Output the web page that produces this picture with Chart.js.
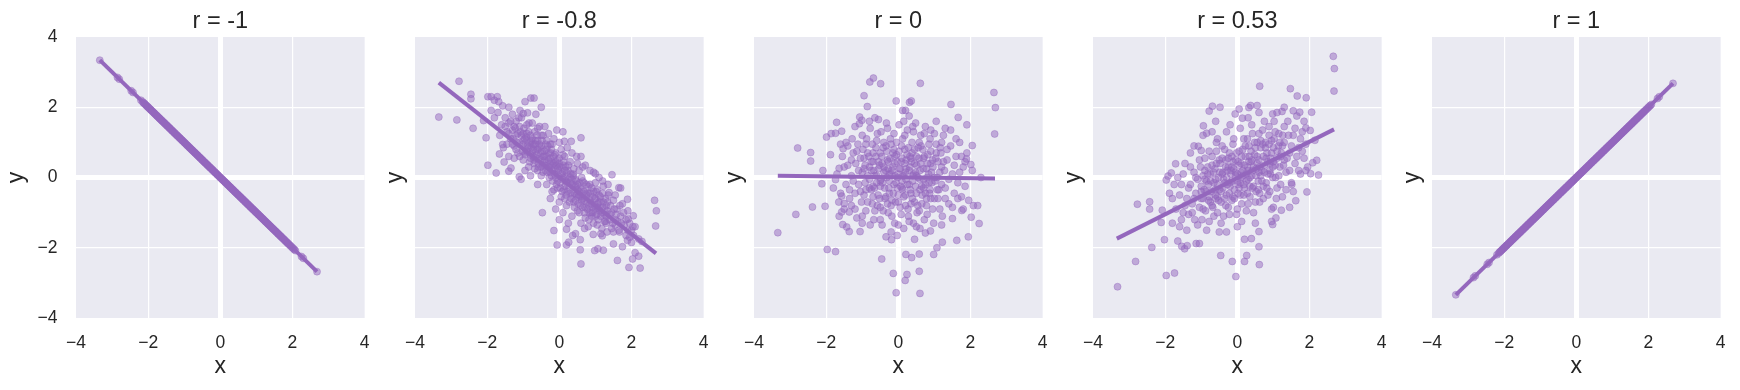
<!DOCTYPE html>
<html>
<head>
<meta charset="utf-8">
<script src="https://cdn.jsdelivr.net/npm/chart.js@4.4.1/dist/chart.umd.min.js"></script>
<style>
  html, body { margin: 0; padding: 0; background: #fff; overflow: hidden; }
  #wrap { position: relative; width: 1740px; height: 390px; }
  #wrap canvas { position: absolute; top: 0; }
</style>
</head>
<body>
<div id="wrap">
  <canvas id="c0" width="384" height="390" style="left:0px"></canvas>
  <canvas id="c1" width="384" height="390" style="left:339px"></canvas>
  <canvas id="c2" width="384" height="390" style="left:678px"></canvas>
  <canvas id="c3" width="384" height="390" style="left:1017px"></canvas>
  <canvas id="c4" width="384" height="390" style="left:1356px"></canvas>
</div>
<script>
// --- data ------------------------------------------------------------------

const titles = ['r = -1', 'r = -0.8', 'r = 0', 'r = 0.53', 'r = 1'];
const axisTicks = [-4, -2, 0, 2, 4];

// fitted regression line, end points
const fitX = [-3.34, 2.68];
const fitYNeg1 = [3.34, -2.68];
const fitYNeg08 = [2.70, -2.16];
const fitY0 = [0.05, -0.03];
const fitY053 = [-1.74, 1.37];
const fitYPos1 = [-3.34, 2.68];

// r = -1 and r = 1 panels: points sit on the diagonal
const xLine = [-3.34, -2.85, -2.80, -2.47, -2.42, -2.20, -2.15, -2.11, -2.07, -2.03, -2.0, -1.96, -1.93,
  -1.89, -1.85, -1.82, -1.78, -1.75, -1.71, -1.68, -1.64, -1.61, -1.57, -1.54, -1.5, -1.47, -1.43, -1.4,
  -1.36, -1.33, -1.29, -1.26, -1.22, -1.19, -1.15, -1.12, -1.08, -1.05, -1.01, -0.98, -0.94, -0.91, -0.87,
  -0.84, -0.8, -0.77, -0.73, -0.7, -0.66, -0.63, -0.59, -0.56, -0.52, -0.49, -0.45, -0.42, -0.38, -0.35,
  -0.31, -0.28, -0.24, -0.21, -0.17, -0.14, -0.1, -0.07, -0.03, 0.0, 0.04, 0.07, 0.11, 0.14, 0.18, 0.21,
  0.25, 0.28, 0.32, 0.35, 0.39, 0.42, 0.46, 0.49, 0.53, 0.56, 0.6, 0.63, 0.67, 0.7, 0.74, 0.77, 0.81, 0.84,
  0.88, 0.91, 0.95, 0.98, 1.02, 1.05, 1.09, 1.12, 1.16, 1.19, 1.23, 1.26, 1.3, 1.33, 1.37, 1.4, 1.44, 1.47,
  1.51, 1.54, 1.58, 1.61, 1.65, 1.68, 1.72, 1.76, 1.8, 1.84, 1.88, 1.93, 1.98, 2.03, 2.08, 2.25, 2.3, 2.68,
  -2.13, -2.09, -2.05, -2.01, -1.98, -1.94, -1.91, -1.87, -1.83, -1.8, -1.76, -1.73, -1.69, -1.66, -1.62,
  -1.59, -1.55, -1.52, -1.48, -1.45, -1.41, -1.38, -1.34, -1.31, -1.27, -1.24, -1.2, -1.17, -1.13, -1.1,
  -1.06, -1.03, -0.99, -0.96, -0.92, -0.89, -0.85, -0.82, -0.78, -0.75, -0.71, -0.68, -0.64, -0.61, -0.57,
  -0.54, -0.5, -0.47, -0.43, -0.4, -0.36, -0.33, -0.29, -0.26, -0.22, -0.19, -0.15, -0.12, -0.08, -0.05,
  -0.01, 0.02, 0.06, 0.09, 0.13, 0.16, 0.2, 0.23, 0.27, 0.3, 0.34, 0.37, 0.41, 0.44, 0.48, 0.51, 0.55, 0.58,
  0.62, 0.65, 0.69, 0.72, 0.76, 0.79, 0.83, 0.86, 0.9, 0.93, 0.97, 1.0, 1.04, 1.07, 1.11, 1.14, 1.18, 1.21,
  1.25, 1.28, 1.32, 1.35, 1.39, 1.42, 1.46, 1.49, 1.53, 1.56, 1.6, 1.63, 1.67, 1.7, 1.74, 1.78, 1.82, 1.86,
  1.9, 1.95, 2.0, 2.05];
const yLineNeg = [3.34, 2.85, 2.80, 2.47, 2.42, 2.20, 2.15, 2.11, 2.07, 2.03, 2.0, 1.96, 1.93,
  1.89, 1.85, 1.82, 1.78, 1.75, 1.71, 1.68, 1.64, 1.61, 1.57, 1.54, 1.5, 1.47, 1.43, 1.4,
  1.36, 1.33, 1.29, 1.26, 1.22, 1.19, 1.15, 1.12, 1.08, 1.05, 1.01, 0.98, 0.94, 0.91, 0.87,
  0.84, 0.8, 0.77, 0.73, 0.7, 0.66, 0.63, 0.59, 0.56, 0.52, 0.49, 0.45, 0.42, 0.38, 0.35,
  0.31, 0.28, 0.24, 0.21, 0.17, 0.14, 0.1, 0.07, 0.03, 0.0, -0.04, -0.07, -0.11, -0.14, -0.18, -0.21,
  -0.25, -0.28, -0.32, -0.35, -0.39, -0.42, -0.46, -0.49, -0.53, -0.56, -0.6, -0.63, -0.67, -0.7, -0.74, -0.77, -0.81, -0.84,
  -0.88, -0.91, -0.95, -0.98, -1.02, -1.05, -1.09, -1.12, -1.16, -1.19, -1.23, -1.26, -1.3, -1.33, -1.37, -1.4, -1.44, -1.47,
  -1.51, -1.54, -1.58, -1.61, -1.65, -1.68, -1.72, -1.76, -1.8, -1.84, -1.88, -1.93, -1.98, -2.03, -2.08, -2.25, -2.3, -2.68,
  2.13, 2.09, 2.05, 2.01, 1.98, 1.94, 1.91, 1.87, 1.83, 1.8, 1.76, 1.73, 1.69, 1.66, 1.62,
  1.59, 1.55, 1.52, 1.48, 1.45, 1.41, 1.38, 1.34, 1.31, 1.27, 1.24, 1.2, 1.17, 1.13, 1.1,
  1.06, 1.03, 0.99, 0.96, 0.92, 0.89, 0.85, 0.82, 0.78, 0.75, 0.71, 0.68, 0.64, 0.61, 0.57,
  0.54, 0.5, 0.47, 0.43, 0.4, 0.36, 0.33, 0.29, 0.26, 0.22, 0.19, 0.15, 0.12, 0.08, 0.05,
  0.01, -0.02, -0.06, -0.09, -0.13, -0.16, -0.2, -0.23, -0.27, -0.3, -0.34, -0.37, -0.41, -0.44, -0.48, -0.51, -0.55, -0.58,
  -0.62, -0.65, -0.69, -0.72, -0.76, -0.79, -0.83, -0.86, -0.9, -0.93, -0.97, -1.0, -1.04, -1.07, -1.11, -1.14, -1.18, -1.21,
  -1.25, -1.28, -1.32, -1.35, -1.39, -1.42, -1.46, -1.49, -1.53, -1.56, -1.6, -1.63, -1.67, -1.7, -1.74, -1.78, -1.82, -1.86,
  -1.9, -1.95, -2.0, -2.05];
const yLinePos = [-3.34, -2.85, -2.80, -2.47, -2.42, -2.20, -2.15, -2.11, -2.07, -2.03, -2.0, -1.96, -1.93,
  -1.89, -1.85, -1.82, -1.78, -1.75, -1.71, -1.68, -1.64, -1.61, -1.57, -1.54, -1.5, -1.47, -1.43, -1.4,
  -1.36, -1.33, -1.29, -1.26, -1.22, -1.19, -1.15, -1.12, -1.08, -1.05, -1.01, -0.98, -0.94, -0.91, -0.87,
  -0.84, -0.8, -0.77, -0.73, -0.7, -0.66, -0.63, -0.59, -0.56, -0.52, -0.49, -0.45, -0.42, -0.38, -0.35,
  -0.31, -0.28, -0.24, -0.21, -0.17, -0.14, -0.1, -0.07, -0.03, 0.0, 0.04, 0.07, 0.11, 0.14, 0.18, 0.21,
  0.25, 0.28, 0.32, 0.35, 0.39, 0.42, 0.46, 0.49, 0.53, 0.56, 0.6, 0.63, 0.67, 0.7, 0.74, 0.77, 0.81, 0.84,
  0.88, 0.91, 0.95, 0.98, 1.02, 1.05, 1.09, 1.12, 1.16, 1.19, 1.23, 1.26, 1.3, 1.33, 1.37, 1.4, 1.44, 1.47,
  1.51, 1.54, 1.58, 1.61, 1.65, 1.68, 1.72, 1.76, 1.8, 1.84, 1.88, 1.93, 1.98, 2.03, 2.08, 2.25, 2.3, 2.68,
  -2.13, -2.09, -2.05, -2.01, -1.98, -1.94, -1.91, -1.87, -1.83, -1.8, -1.76, -1.73, -1.69, -1.66, -1.62,
  -1.59, -1.55, -1.52, -1.48, -1.45, -1.41, -1.38, -1.34, -1.31, -1.27, -1.24, -1.2, -1.17, -1.13, -1.1,
  -1.06, -1.03, -0.99, -0.96, -0.92, -0.89, -0.85, -0.82, -0.78, -0.75, -0.71, -0.68, -0.64, -0.61, -0.57,
  -0.54, -0.5, -0.47, -0.43, -0.4, -0.36, -0.33, -0.29, -0.26, -0.22, -0.19, -0.15, -0.12, -0.08, -0.05,
  -0.01, 0.02, 0.06, 0.09, 0.13, 0.16, 0.2, 0.23, 0.27, 0.3, 0.34, 0.37, 0.41, 0.44, 0.48, 0.51, 0.55, 0.58,
  0.62, 0.65, 0.69, 0.72, 0.76, 0.79, 0.83, 0.86, 0.9, 0.93, 0.97, 1.0, 1.04, 1.07, 1.11, 1.14, 1.18, 1.21,
  1.25, 1.28, 1.32, 1.35, 1.39, 1.42, 1.46, 1.49, 1.53, 1.56, 1.6, 1.63, 1.67, 1.7, 1.74, 1.78, 1.82, 1.86,
  1.9, 1.95, 2.0, 2.05];

// r = -0.8 panel, [x, y]
const ptsNeg08 = [
  [-2.78, 2.74], [-3.34, 1.72], [-2.84, 1.64], [-2.39, 1.40], [-2.45, 2.37], [-2.45, 2.24], [-2.03, 1.13],
  [-1.98, 0.35], [-1.75, 0.13], [-2.10, 1.62], [-1.98, 2.3], [-1.89, 2.3], [-1.72, 2.3], [-1.8, 2.2],
  [-1.68, 2.16], [-1.57, 2.04], [-1.89, 1.91], [-1.09, 1.91], [-1.0, 1.82], [-0.95, 2.16], [-0.79, 2.26],
  [-0.70, 2.26], [-0.50, 2.0], [-0.88, 1.84], [-0.07, 1.35], [0.60, 1.13], [0.33, 1.03], [0.14, 1.03],
  [1.46, 0.08], [1.65, -0.29], [1.89, -0.62], [2.64, -0.65], [2.69, -0.95], [2.67, -1.38], [2.05, -1.09],
  [2.29, -1.82], [1.91, -1.18], [2.0, -1.5], [2.06, -1.65], [1.89, -1.79], [2.10, -2.14], [2.03, -2.32],
  [2.2, -2.24], [1.93, -2.56], [2.24, -2.58], [1.61, -2.36], [0.60, -2.46], [0.58, -2.06], [0.98, -2.08],
  [1.07, -2.03], [1.22, -2.07], [1.50, -1.89], [1.75, -1.97], [-0.06, -1.92], [0.20, -1.92], [0.26, -1.84],
  [0.58, -1.77], [0.37, -1.65], [-0.15, -1.51], [0.20, -1.47], [-0.47, -1.0], [1.19, -1.66], [1.32, -1.55],
  [0.94, -1.62], [1.0, 0.11], [1.2, -0.10], [1.38, -0.43], [-1.11, 0.02], [-1.06, -0.05], [-1.40, 0.18],
  [-1.34, 0.27], [-1.66, 0.67], [-1.57, 0.94], [-1.53, 0.44],
  [-1.6, 1.5], [-1.5, 1.7], [-1.45, 1.3], [-1.4, 1.55], [-1.35, 1.1], [-1.3, 1.8], [-1.3, 1.35], [-1.25, 0.9],
  [-1.2, 1.6], [-1.2, 1.2], [-1.15, 0.7], [-1.1, 1.45], [-1.1, 1.0], [-1.05, 1.7], [-1.0, 1.25], [-1.0, 0.5],
  [-0.95, 0.85], [-0.9, 1.5], [-0.9, 1.05], [-0.85, 0.3], [-0.8, 1.2], [-0.8, 0.65], [-0.75, 1.55],
  [-0.75, 0.95], [-0.7, 0.4], [-0.68, 1.3], [-0.65, 0.75], [-0.6, 1.05], [-0.6, 0.2], [-0.55, 1.45],
  [-0.55, 0.55], [-0.5, 0.9], [-0.5, 0.05], [-0.45, 1.2], [-0.45, 0.6], [-0.4, 0.35], [-0.38, 0.95],
  [-0.35, -0.2], [-0.3, 0.7], [-0.3, 1.25], [-0.25, 0.15], [-0.2, 0.45], [-0.2, 0.95], [-0.15, -0.35],
  [-0.12, 0.25], [-0.1, 0.7], [-0.05, -0.1], [0.0, 0.4], [0.0, 1.0], [0.05, -0.55], [0.08, 0.1], [0.1, 0.65],
  [0.15, -0.25], [0.18, 0.3], [0.2, -0.8], [0.22, 0.85], [0.25, -0.05], [0.3, -0.45], [0.3, 0.45],
  [0.35, -1.1], [0.38, 0.1], [0.4, -0.7], [0.45, -0.25], [0.48, 0.6], [0.5, -0.95], [0.55, -0.4], [0.55, 0.2],
  [0.6, -1.3], [0.62, -0.65], [0.65, -0.1], [0.7, -1.0], [0.72, 0.35], [0.75, -0.5], [0.8, -1.4],
  [0.82, -0.8], [0.85, -0.2], [0.9, -1.1], [0.92, -0.55], [0.95, 0.15], [1.0, -0.9], [1.05, -1.35],
  [1.05, -0.35], [1.1, -0.7], [1.15, -1.1], [1.2, -0.45], [1.25, -1.25], [1.3, -0.8], [1.35, -0.2],
  [1.4, -1.05], [1.45, -1.45], [1.5, -0.65], [1.55, -1.2], [1.6, -0.9], [1.65, -1.5], [1.7, -1.1],
  [1.75, -0.75], [1.8, -1.35], [1.85, -1.65], [1.9, -0.95], [1.95, -1.3], [2.0, -1.85], [2.1, -1.4],
  [2.2, -1.75], [-1.7, 1.85], [-1.65, 1.2], [-1.55, 0.85], [-1.8, 1.7], [-1.4, 2.0], [-0.65, 1.8],
  [0.1, 1.3], [0.45, -1.6], [-0.25, -0.6], [0.0, -1.2], [0.6, 0.6], [1.1, 0.0], [1.7, -0.3],
  [1.85, -1.2], [2.04, -1.4], [1.9, -1.5], [1.67, -1.55], [1.5, -1.55], [1.95, -1.7], [1.55, -1.35], [1.28, -1.25],
  [-1.3, 0.95], [-1.25, 1.45], [-1.2, 0.8], [-1.15, 1.25], [-1.1, 0.6], [-1.05, 1.2], [-1.0, 0.95],
  [-0.98, 1.4], [-0.95, 0.65], [-0.92, 1.15], [-0.88, 0.9], [-0.85, 1.3], [-0.82, 0.45], [-0.78, 0.85],
  [-0.75, 1.1], [-0.72, 0.6], [-0.7, 0.95], [-0.68, 0.25], [-0.65, 0.55], [-0.62, 1.2], [-0.6, 0.8],
  [-0.58, 0.4], [-0.55, 0.95], [-0.52, 0.7], [-0.5, 0.3], [-0.48, 1.05], [-0.45, 0.15], [-0.42, 0.75],
  [-0.4, 0.5], [-0.38, 0.2], [-0.35, 0.6], [-0.32, 0.9], [-0.3, 0.3], [-0.28, 0.0], [-0.25, 0.55],
  [-0.22, 0.8], [-0.2, 0.2], [-0.18, -0.1], [-0.15, 0.4], [-0.12, 0.65], [-0.1, 0.0], [-0.08, 0.35],
  [-0.05, -0.3], [-0.02, 0.2], [0.0, 0.55], [0.02, -0.15], [0.05, 0.3], [0.08, -0.4], [0.1, 0.0],
  [0.12, 0.45], [0.15, -0.6], [0.18, -0.1], [0.2, 0.15], [0.22, -0.4], [0.25, 0.35], [0.28, -0.7],
  [0.3, -0.15], [0.32, 0.1], [0.35, -0.5], [0.38, -0.25], [0.4, 0.25], [0.42, -0.85], [0.45, -0.05],
  [0.48, -0.5], [0.5, -0.2], [0.52, -0.75], [0.55, -1.0], [0.58, -0.3], [0.6, -0.55], [0.62, 0.0],
  [0.65, -0.85], [0.68, -0.4], [0.7, -0.65], [0.72, -1.15], [0.75, -0.2], [0.78, -0.9], [0.8, -0.45],
  [0.82, -1.2], [0.85, -0.65], [0.88, -1.0], [0.9, -0.3], [0.92, -0.85], [0.95, -1.3], [0.98, -0.6],
  [1.0, -1.1], [1.02, -0.4], [1.05, -0.85], [1.08, -1.2], [1.1, -0.5], [1.12, -0.95], [1.15, -0.7],
  [1.18, -1.45], [1.2, -0.85], [1.22, -0.25], [1.25, -1.05], [1.28, -0.6], [1.3, -1.3], [1.33, -0.95],
  [1.36, -0.5], [1.4, -1.2], [1.42, -0.8], [1.45, -1.0], [1.48, -1.3], [1.52, -0.9], [1.55, -0.5],
  [1.58, -1.05], [1.62, -1.25], [1.68, -0.8], [1.72, -1.3], [1.78, -1.0], [-1.5, 1.45], [-1.45, 0.95],
  [-1.4, 1.25], [-1.35, 1.6], [-1.28, 1.1], [-1.22, 1.4], [-1.18, 1.0], [-1.12, 1.7], [-1.08, 1.3],
  [-1.02, 0.75], [-0.96, 1.1], [-0.9, 0.75], [-0.84, 1.55], [-0.8, 1.0], [-0.74, 0.75], [-0.66, 1.05],
  [-0.6, 1.4], [-0.5, 1.2], [-0.4, 1.45], [-0.35, 1.05], [-0.25, 0.95], [-0.15, 1.1], [0.05, 0.8],
  [0.15, 0.6], [0.25, -1.3], [0.35, 0.7], [0.5, 0.4], [0.65, 0.3], [0.7, -1.45], [0.85, 0.2], [1.0, -0.15],
  [1.15, -1.6], [0.0, -0.7], [-0.1, -0.9], [0.1, -1.0], [-0.2, -0.4], [-0.6, -0.2], [-0.8, 0.05],
  [-0.95, 0.2], [-1.25, 0.55], [-1.4, 0.6],
  [-1.0, 1.05], [-0.95, 0.7], [-0.9, 1.25], [-0.85, 0.85], [-0.8, 0.55], [-0.78, 1.05], [-0.72, 0.8],
  [-0.7, 0.5], [-0.66, 0.95], [-0.62, 0.65], [-0.58, 0.3], [-0.56, 0.85], [-0.52, 0.5], [-0.48, 0.75],
  [-0.46, 0.35], [-0.42, 0.6], [-0.38, 0.4], [-0.36, 0.8], [-0.33, 0.15], [-0.3, 0.5], [-0.27, 0.3],
  [-0.24, 0.7], [-0.22, 0.05], [-0.19, 0.35], [-0.16, 0.6], [-0.13, 0.1], [-0.1, 0.45], [-0.08, -0.2],
  [-0.05, 0.25], [-0.03, 0.05], [0.0, 0.3], [0.03, -0.3], [0.05, 0.1], [0.08, -0.05], [0.11, 0.35],
  [0.13, -0.35], [0.16, 0.0], [0.19, -0.5], [0.21, -0.15], [0.24, 0.2], [0.27, -0.3], [0.3, 0.0],
  [0.33, -0.6], [0.36, -0.2], [0.39, 0.05], [0.42, -0.45], [0.45, -0.65], [0.47, -0.1], [0.5, -0.35],
  [0.53, -0.55], [0.56, -0.15], [0.59, -0.8], [0.62, -0.35], [0.65, -0.6], [0.68, -0.15], [0.71, -0.85],
  [0.74, -0.45], [0.77, -0.7], [0.8, -0.25], [0.83, -1.0], [0.86, -0.45], [0.89, -0.75], [0.92, -1.0],
  [0.95, -0.4], [0.98, -0.8], [1.01, -0.6], [1.04, -1.05], [1.07, -0.75], [1.1, -0.9], [1.14, -0.55],
  [1.18, -1.0], [1.22, -0.7], [1.26, -0.9], [1.3, -1.1], [1.34, -0.7], [-0.25, 0.4], [0.15, 0.2],
  [0.55, -0.5], [0.35, -0.05], [-0.05, 0.5]
];

// r = 0 panel, [x, y]
const pts0 = [
  [-0.69, 2.83], [-0.79, 2.72], [-0.49, 2.67], [0.61, 2.68], [-0.95, 2.33], [-0.86, 2.02], [-0.06, 2.18],
  [0.12, 1.91], [0.2, 1.91], [0.31, 2.14], [0.36, 2.18], [1.46, 2.08], [1.66, 1.71], [1.90, 1.50],
  [2.65, 2.42], [2.69, 1.99], [2.67, 1.24], [2.05, 0.91], [1.89, 0.53], [2.01, 0.37], [2.05, 0.20],
  [2.29, 0.0], [2.08, -0.80], [2.2, -0.80], [2.24, -1.31], [2.02, -1.13], [1.94, -1.69], [1.62, -1.79],
  [1.22, -1.84], [1.07, -2.0], [0.98, -2.19], [0.58, -2.18], [0.58, -2.67], [0.60, -3.30], [0.21, -2.19],
  [0.37, -2.28], [-0.14, -2.73], [0.24, -2.76], [0.19, -2.93], [-0.06, -3.28], [-0.46, -2.32],
  [-1.97, -2.05], [-1.74, -2.11], [-3.34, -1.57], [-2.84, -1.05], [-2.38, -0.84], [-2.03, -0.82],
  [-2.12, -0.18], [-2.09, 0.2], [-2.79, 0.84], [-2.43, 0.71], [-2.43, 0.47], [-1.71, 1.57], [-1.99, 1.15],
  [-1.86, 1.25], [-1.74, 1.26], [-1.57, 1.32], [-1.07, 1.72], [-1.01, 1.63], [-1.08, 1.53], [-0.55, 1.65],
  [-1.88, 0.65], [-1.53, 0.82], [-1.54, -1.34], [-1.43, -1.41], [-1.36, -1.54], [-1.06, -1.54],
  [-1.64, -1.1], [-1.57, -0.98], [-0.34, -1.69], [-0.19, -1.77], [-0.03, -1.65], [0.45, -1.76],
  [0.75, -1.58], [0.89, -1.52], [1.50, -1.17], [1.76, -0.94], [-1.74, -0.06], [-1.64, 0.26],
  [-1.57, -0.53], [-1.5, -0.74], [-1.36, -0.98],
  [-1.5, 0.3], [-1.45, -0.2], [-1.4, 0.9], [-1.35, -0.6], [-1.3, 0.5], [-1.28, 1.1], [-1.25, -0.1],
  [-1.2, -0.9], [-1.15, 0.75], [-1.1, 0.2], [-1.05, -0.4], [-1.0, 1.2], [-1.0, -1.1], [-0.95, 0.55],
  [-0.92, -0.15], [-0.9, 0.95], [-0.85, -0.7], [-0.8, 0.3], [-0.78, 1.4], [-0.75, -0.35], [-0.7, 0.7],
  [-0.68, -1.2], [-0.65, 0.05], [-0.6, 1.05], [-0.58, -0.8], [-0.55, 0.45], [-0.5, -0.25], [-0.48, 1.3],
  [-0.45, -1.35], [-0.42, 0.85], [-0.4, 0.15], [-0.35, -0.55], [-0.33, 1.55], [-0.3, 0.5], [-0.28, -1.0],
  [-0.25, -0.1], [-0.2, 0.95], [-0.18, -0.65], [-0.15, 0.3], [-0.12, 1.25], [-0.1, -1.3], [-0.05, 0.65],
  [-0.03, -0.3], [0.0, 0.1], [0.02, 1.5], [0.05, -0.85], [0.08, 0.45], [0.1, -0.1], [0.12, 1.1],
  [0.15, -1.45], [0.18, 0.8], [0.2, -0.5], [0.22, 0.25], [0.25, 1.35], [0.28, -1.1], [0.3, -0.2],
  [0.32, 0.6], [0.35, -0.75], [0.38, 1.0], [0.4, 0.05], [0.42, -1.3], [0.45, 0.4], [0.48, 1.55],
  [0.5, -0.45], [0.55, 0.85], [0.58, -0.95], [0.6, 0.2], [0.62, 1.2], [0.65, -0.25], [0.7, 0.55],
  [0.72, -1.2], [0.75, 1.45], [0.78, -0.6], [0.8, 0.0], [0.85, 0.95], [0.88, -0.35], [0.9, 0.4],
  [0.95, -0.9], [1.0, 1.25], [1.02, -0.1], [1.05, 0.7], [1.1, -0.6], [1.15, 0.15], [1.2, 1.0],
  [1.22, -1.1], [1.25, 0.45], [1.3, -0.3], [1.35, 0.8], [1.4, -0.75], [1.45, 1.35], [1.5, 0.1],
  [1.55, -0.45], [1.6, 0.6], [1.65, -0.15], [1.7, 1.0], [1.75, -0.55], [1.8, 0.3], [1.85, -0.25],
  [1.9, 0.7], [1.95, -0.65], [-1.6, -0.45], [-1.55, 0.6], [-1.7, 0.1], [-1.8, -0.3], [-0.65, 1.7],
  [0.3, 1.75], [1.05, 1.6], [-0.2, -1.55], [0.6, -1.45],
  [-1.4, 0.35], [-1.35, -0.35], [-1.3, 0.05], [-1.25, 0.7], [-1.2, -0.45], [-1.18, 0.4], [-1.15, -1.15],
  [-1.12, 0.95], [-1.1, -0.2], [-1.05, 0.55], [-1.02, -0.7], [-1.0, 0.15], [-0.98, 0.8], [-0.95, -0.5],
  [-0.92, 0.35], [-0.9, -0.95], [-0.88, 1.1], [-0.85, 0.05], [-0.82, 0.6], [-0.8, -0.3], [-0.78, -1.35],
  [-0.75, 0.45], [-0.72, 0.95], [-0.7, -0.55], [-0.68, 0.2], [-0.65, -0.95], [-0.62, 0.6], [-0.6, -0.15],
  [-0.58, 1.25], [-0.55, 0.25], [-0.52, -0.6], [-0.5, 0.7], [-0.48, -0.05], [-0.45, 0.4], [-0.42, -0.95],
  [-0.4, 1.0], [-0.38, -0.3], [-0.35, 0.2], [-0.32, 0.75], [-0.3, -0.75], [-0.28, 0.45], [-0.25, -0.45],
  [-0.22, 1.1], [-0.2, 0.1], [-0.18, -1.1], [-0.15, 0.7], [-0.12, -0.2], [-0.1, 0.4], [-0.08, -0.7],
  [-0.05, 1.0], [-0.02, 0.0], [0.0, -0.5], [0.02, 0.75], [0.05, 0.25], [0.08, -1.05], [0.1, 0.55],
  [0.12, -0.35], [0.15, 0.05], [0.18, 1.2], [0.2, -0.8], [0.22, 0.5], [0.25, -0.2], [0.28, 0.85],
  [0.3, -1.25], [0.32, 0.3], [0.35, -0.45], [0.38, 0.7], [0.4, -0.1], [0.42, 1.3], [0.45, -0.7],
  [0.48, 0.15], [0.5, 0.6], [0.52, -1.0], [0.55, 0.0], [0.58, 1.0], [0.6, -0.35], [0.62, 0.4],
  [0.65, -0.75], [0.68, 0.8], [0.7, -0.05], [0.72, 1.25], [0.75, -0.45], [0.78, 0.25], [0.8, -1.05],
  [0.82, 0.65], [0.85, -0.15], [0.88, 1.1], [0.9, -0.6], [0.92, 0.15], [0.95, 0.5], [0.98, -1.3],
  [1.0, 0.0], [1.05, 0.95], [1.08, -0.35], [1.1, 0.45], [1.15, -0.9], [1.18, 0.7], [1.2, -0.2],
  [1.25, 1.2], [1.28, 0.2], [1.3, -0.6], [1.35, 0.5], [1.4, -0.05], [1.45, 0.9], [1.5, -0.85],
  [1.55, 0.35], [1.6, 1.1], [1.65, -0.6], [1.7, 0.15], [1.75, 0.6], [1.8, -0.9], [1.85, 0.45],
  [-1.5, -0.9], [-1.45, 1.0], [-1.6, 0.95], [-1.65, -0.7], [-1.3, -0.8], [-1.0, -1.3], [-0.5, -1.2],
  [0.0, -1.35], [0.5, -1.4], [1.2, -1.35], [-1.2, 1.45], [-0.3, 1.4], [0.4, 1.45], [0.9, 1.35],
  [1.3, 1.4], [-0.8, 1.6], [0.15, 1.6],
  [-0.95, 0.25], [-0.9, -0.35], [-0.85, 0.7], [-0.8, -0.05], [-0.75, 0.2], [-0.72, -0.75], [-0.7, 0.45],
  [-0.66, -0.3], [-0.62, 0.85], [-0.6, 0.05], [-0.56, -0.5], [-0.52, 0.35], [-0.5, -0.85], [-0.46, 0.6],
  [-0.44, -0.15], [-0.4, 0.3], [-0.37, -0.6], [-0.34, 0.9], [-0.32, 0.0], [-0.28, 0.25], [-0.26, -0.3],
  [-0.23, 0.55], [-0.2, -0.8], [-0.17, 0.2], [-0.14, -0.45], [-0.12, 0.8], [-0.09, 0.05], [-0.06, -0.15],
  [-0.03, 0.45], [0.0, -0.7], [0.03, 0.25], [0.06, -0.25], [0.09, 0.9], [0.12, 0.05], [0.15, -0.55],
  [0.18, 0.4], [0.21, -0.05], [0.24, 0.65], [0.27, -0.9], [0.3, 0.2], [0.33, -0.35], [0.36, 0.45],
  [0.39, -0.6], [0.42, 0.1], [0.45, 0.8], [0.48, -0.25], [0.51, 0.35], [0.54, -0.8], [0.57, 0.55],
  [0.6, -0.05], [0.63, 0.9], [0.66, -0.5], [0.69, 0.25], [0.72, 0.6], [0.75, -0.2], [0.78, -0.8],
  [0.81, 0.4], [0.84, 0.1], [0.87, -0.45], [0.9, 0.75], [0.93, -0.15], [0.96, 0.3], [1.0, -0.6],
  [1.04, 0.55], [1.08, 0.0], [1.12, -0.35], [1.16, 0.85], [1.2, 0.3], [-0.25, 0.1], [0.2, 0.15],
  [0.5, 0.05], [-0.5, -0.1], [0.1, -0.3], [0.35, 0.55], [-0.1, 0.6], [0.7, -0.3], [-0.7, -0.25]
];

// r = 0.53 panel, [x, y]
const pts053 = [
  [-3.32, -3.11], [-2.82, -2.39], [-2.37, -1.99], [-2.77, -0.76], [-2.43, -0.69], [-2.43, -0.90],
  [-1.97, -2.79], [-1.74, -2.72], [-2.02, -1.77], [-2.11, -1.28], [-2.08, -0.93], [-1.65, -1.81],
  [-1.54, -1.96], [-1.46, -2.03], [-1.39, -1.94], [-1.14, -1.88], [-1.05, -1.88], [-0.46, -2.22],
  [-0.14, -2.39], [-0.04, -2.82], [0.20, -2.39], [0.26, -2.22], [0.61, -2.48], [0.60, -1.97],
  [0.39, -1.74], [0.20, -1.76], [0.60, -1.54], [0.98, -1.34], [1.07, -1.15], [1.22, -0.93], [1.62, -0.66],
  [1.93, -0.41], [1.51, -0.20], [2.03, 0.11], [2.25, 0.07], [2.20, 0.49], [2.09, 0.42], [2.66, 3.45],
  [2.69, 3.10], [2.68, 2.46], [1.47, 2.53], [1.66, 2.32], [1.91, 2.27], [0.62, 2.60], [2.06, 1.86],
  [1.73, 1.86], [1.24, 1.88], [0.98, 1.81], [0.32, 1.99], [0.37, 2.05], [-0.06, 1.81], [0.14, 1.69],
  [-0.78, 1.89], [-0.69, 2.03], [-0.48, 2.0], [-0.94, 1.47], [-0.85, 1.26], [-0.55, 1.10], [-1.08, 0.89],
  [-1.0, 0.77], [-1.71, 0.39], [-1.83, 0.13], [-1.92, 0.04], [-1.97, -0.07], [-1.88, -0.45], [1.9, 1.41],
  [2.02, 1.34], [2.15, 1.06],
  [-1.6, -0.5], [-1.55, -1.2], [-1.5, 0.1], [-1.45, -0.8], [-1.4, -1.5], [-1.35, -0.3], [-1.3, 0.3],
  [-1.25, -1.0], [-1.2, -0.6], [-1.15, 0.0], [-1.1, -1.35], [-1.05, 0.5], [-1.0, -0.4], [-0.95, -0.9],
  [-0.9, 0.2], [-0.85, -1.5], [-0.8, -0.2], [-0.78, 0.75], [-0.75, -0.7], [-0.7, 0.35], [-0.65, -1.1],
  [-0.6, -0.05], [-0.58, 1.0], [-0.55, -0.55], [-0.5, 0.5], [-0.45, -1.3], [-0.42, 0.1], [-0.4, -0.3],
  [-0.35, 0.8], [-0.32, -0.8], [-0.3, 1.3], [-0.25, 0.3], [-0.22, -1.05], [-0.2, -0.15], [-0.15, 0.6],
  [-0.12, -0.55], [-0.1, 1.1], [-0.05, 0.05], [0.0, -0.9], [0.02, 0.45], [0.05, -0.3], [0.08, 1.4],
  [0.1, 0.15], [0.12, -1.25], [0.15, 0.8], [0.18, -0.5], [0.2, 0.35], [0.25, -0.1], [0.28, 1.1],
  [0.3, -0.75], [0.33, 0.6], [0.35, -0.25], [0.4, 1.5], [0.42, 0.2], [0.45, -1.0], [0.5, 0.85],
  [0.52, -0.4], [0.55, 0.4], [0.6, 1.25], [0.62, -0.7], [0.65, 0.05], [0.7, 0.95], [0.72, -0.25],
  [0.75, 1.6], [0.8, 0.55], [0.85, -0.5], [0.88, 1.2], [0.9, 0.2], [0.95, -0.9], [1.0, 0.85], [1.02, 1.6],
  [1.05, 0.35], [1.1, -0.3], [1.15, 1.25], [1.2, 0.6], [1.25, -0.55], [1.3, 1.0], [1.35, 0.15], [1.4, 1.6],
  [1.45, 0.7], [1.5, -0.15], [1.55, 1.2], [1.6, 0.4], [1.65, 1.75], [1.7, 0.85], [1.75, 0.1], [1.8, 1.3],
  [1.85, 0.55], [1.9, 0.95], [1.95, 0.3], [-1.7, -0.9], [-1.8, -0.6], [-0.95, 1.2], [-0.6, 1.6],
  [0.05, 1.95], [0.95, -1.25], [-0.3, -1.55], [1.3, 2.0], [0.55, 2.05], [-1.3, 0.7],
  [-1.4, -0.6], [-1.35, -1.05], [-1.3, -0.2], [-1.25, -0.75], [-1.2, 0.15], [-1.18, -1.2], [-1.15, -0.45],
  [-1.1, -0.05], [-1.05, -0.85], [-1.02, 0.3], [-1.0, -0.6], [-0.98, -1.2], [-0.95, 0.05], [-0.92, -0.35],
  [-0.9, 0.55], [-0.88, -0.95], [-0.85, -0.1], [-0.82, 0.3], [-0.8, -0.65], [-0.78, -1.25], [-0.75, 0.1],
  [-0.72, -0.4], [-0.7, 0.6], [-0.68, -0.85], [-0.65, -0.15], [-0.62, 0.25], [-0.6, -0.6], [-0.58, 0.75],
  [-0.55, -1.0], [-0.52, 0.0], [-0.5, -0.35], [-0.48, 0.4], [-0.45, -0.7], [-0.42, 0.9], [-0.4, 0.15],
  [-0.38, -1.1], [-0.35, -0.15], [-0.32, 0.5], [-0.3, -0.5], [-0.28, 0.2], [-0.25, -0.85], [-0.22, 0.7],
  [-0.2, -0.25], [-0.18, 0.1], [-0.15, -0.65], [-0.12, 0.95], [-0.1, 0.25], [-0.08, -0.35], [-0.05, 0.5],
  [-0.02, -1.05], [0.0, 0.1], [0.02, -0.45], [0.05, 0.75], [0.08, -0.15], [0.1, 0.4], [0.12, -0.75],
  [0.15, 0.05], [0.18, 1.1], [0.2, -0.3], [0.22, 0.6], [0.25, -0.95], [0.28, 0.3], [0.3, -0.05],
  [0.32, 0.9], [0.35, -0.55], [0.38, 0.45], [0.4, 0.05], [0.42, 1.25], [0.45, -0.25], [0.48, 0.65],
  [0.5, -0.7], [0.52, 0.25], [0.55, 1.0], [0.58, -0.1], [0.6, 0.5], [0.62, -0.45], [0.65, 0.85],
  [0.68, 0.2], [0.7, 1.35], [0.72, -0.6], [0.75, 0.35], [0.78, 1.0], [0.8, -0.15], [0.82, 0.7],
  [0.85, 0.1], [0.88, 1.45], [0.9, -0.4], [0.92, 0.55], [0.95, 1.05], [0.98, 0.0], [1.0, 0.45],
  [1.05, 1.3], [1.08, -0.6], [1.1, 0.75], [1.15, 0.05], [1.18, 1.0], [1.2, -0.2], [1.25, 0.9],
  [1.28, 0.35], [1.3, 1.45], [1.35, -0.35], [1.38, 0.55], [1.42, 1.2], [1.45, 0.2], [1.5, 0.9],
  [1.55, -0.4], [1.6, 1.4], [1.65, 0.6], [1.7, 0.2], [1.75, 1.1], [1.8, 0.75], [1.85, 1.6], [1.9, 0.2],
  [-1.5, -1.0], [-1.45, 0.4], [-1.55, -0.2], [-1.6, -1.4], [-1.65, 0.0], [-1.2, 0.9], [-0.7, 1.3],
  [-0.2, 1.5], [0.3, 1.7], [0.6, 1.85], [1.1, 1.85], [1.55, 1.9], [0.5, -1.3], [0.0, -1.4], [-0.5, -1.55],
  [1.0, -0.85], [1.45, -0.85], [-1.8, -1.3], [-1.75, -0.2],
  [-1.0, -0.25], [-0.95, -0.6], [-0.9, -0.05], [-0.86, -0.4], [-0.82, 0.1], [-0.78, -0.55], [-0.74, -0.1],
  [-0.7, -0.8], [-0.66, 0.15], [-0.62, -0.35], [-0.58, 0.4], [-0.55, -0.2], [-0.52, -0.65], [-0.48, 0.15],
  [-0.45, -0.4], [-0.42, 0.55], [-0.38, -0.05], [-0.35, -0.6], [-0.32, 0.3], [-0.28, -0.2], [-0.25, 0.55],
  [-0.22, -0.45], [-0.18, 0.2], [-0.15, -0.1], [-0.12, 0.45], [-0.08, -0.6], [-0.05, 0.15], [-0.02, 0.7],
  [0.02, -0.2], [0.05, 0.35], [0.08, -0.5], [0.12, 0.6], [0.15, 0.2], [0.18, -0.2], [0.22, 0.9],
  [0.25, 0.1], [0.28, -0.45], [0.32, 0.45], [0.35, 0.0], [0.38, 0.75], [0.42, -0.3], [0.45, 0.3],
  [0.48, 1.0], [0.52, 0.05], [0.55, 0.6], [0.58, -0.35], [0.62, 0.3], [0.65, 1.05], [0.68, -0.1],
  [0.72, 0.6], [0.75, 0.15], [0.78, 0.85], [0.82, -0.3], [0.85, 0.45], [0.88, 0.95], [0.92, 0.1],
  [0.95, 0.7], [0.98, 0.3], [1.02, 1.1], [1.06, 0.0], [1.1, 0.55], [1.14, 0.9], [1.18, 0.3], [1.22, 0.7],
  [1.26, 1.2], [1.3, 0.5], [0.0, -0.1], [0.3, 0.2], [-0.3, 0.0], [0.6, 0.15], [-0.6, -0.5], [0.1, 0.0],
  [0.4, 0.5], [-0.15, 0.3], [0.9, 0.4]
];

// --- styling ----------------------------------------------------------------

const PURPLE = '#9467bd';
const PURPLE_A = 'rgba(148, 103, 189, 0.5)';
const TEXT = '#262626';
const FONT = '"Liberation Sans", Arial, sans-serif';

const plotBg = {
  id: 'plotBg',
  beforeDraw(chart) {
    const { ctx, chartArea: a } = chart;
    ctx.save();
    ctx.fillStyle = '#EAEAF2';
    ctx.fillRect(a.left, a.top, a.width, a.height);
    ctx.restore();
  }
};

function fmtTick(v) {
  return v < 0 ? '\u2212' + Math.abs(v) : String(v);
}

function gridOpts() {
  return {
    color: (c) => (c.tick && Math.abs(c.tick.value) === 4 ? 'rgba(0,0,0,0)' : '#ffffff'),
    lineWidth: (c) => (c.tick && c.tick.value === 0 ? 5 : 1.2),
    drawTicks: false
  };
}

function makePanel(idx, xs, ys, fitY, firstPanel) {
  const pts = xs.map((x, i) => ({ x: x, y: ys[i] }));
  new Chart(document.getElementById('c' + idx), {
    type: 'scatter',
    data: {
      datasets: [
        {
          type: 'line',
          data: fitX.map((x, i) => ({ x: x, y: fitY[i] })),
          borderColor: PURPLE,
          borderWidth: 4,
          pointRadius: 0,
          showLine: true,
          fill: false,
          order: 0
        },
        {
          data: pts,
          backgroundColor: PURPLE_A,
          borderColor: PURPLE_A,
          borderWidth: 0.8,
          pointRadius: 3.5,
          order: 1
        }
      ]
    },
    options: {
      responsive: false,
      animation: false,
      layout: { padding: { left: 0, right: 17, top: 0, bottom: 0 } },
      plugins: {
        legend: { display: false },
        tooltip: { enabled: false },
        title: {
          display: true,
          text: titles[idx],
          fullSize: false,
          color: TEXT,
          font: { family: FONT, size: 23.5, weight: 'normal', lineHeight: 1.2 },
          padding: { top: 7, bottom: 1.8 }
        }
      },
      scales: {
        x: {
          type: 'linear',
          min: -4,
          max: 4,
          afterBuildTicks: (s) => { s.ticks = axisTicks.map(v => ({ value: v })); },
          afterFit: (s) => { s.height = 72; },
          border: { display: false },
          grid: gridOpts(),
          ticks: { color: TEXT, font: { family: FONT, size: 17.5 }, padding: 14.5, callback: fmtTick, maxRotation: 0 },
          title: { display: true, text: 'x', color: TEXT, font: { family: FONT, size: 23 }, padding: { top: 0, bottom: 10 } }
        },
        y: {
          type: 'linear',
          min: -4,
          max: 4,
          afterBuildTicks: (s) => { s.ticks = axisTicks.map(v => ({ value: v })); },
          afterFit: (s) => { s.width = 76; },
          border: { display: false },
          grid: gridOpts(),
          ticks: { display: firstPanel, color: TEXT, font: { family: FONT, size: 17.5 }, padding: 18.5, callback: fmtTick },
          title: { display: true, text: 'y', color: TEXT, font: { family: FONT, size: 23 }, padding: { top: firstPanel ? 3 : 43, bottom: 0 } }
        }
      }
    },
    plugins: [plotBg]
  });
}

function pairX(p) { return p.map(d => d[0]); }
function pairY(p) { return p.map(d => d[1]); }

makePanel(0, xLine, yLineNeg, fitYNeg1, true);
makePanel(1, pairX(ptsNeg08), pairY(ptsNeg08), fitYNeg08, false);
makePanel(2, pairX(pts0), pairY(pts0), fitY0, false);
makePanel(3, pairX(pts053), pairY(pts053), fitY053, false);
makePanel(4, xLine, yLinePos, fitYPos1, false);
</script>
</body>
</html>
